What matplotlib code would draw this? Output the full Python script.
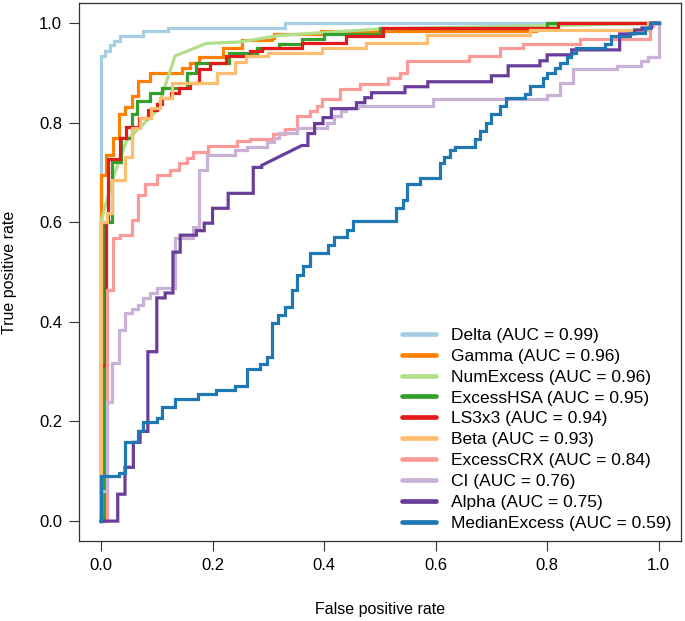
import matplotlib
matplotlib.use("Agg")
import matplotlib.pyplot as plt
import numpy as np

plt.rcParams['font.family'] = ['Liberation Sans', 'DejaVu Sans']

# ROC curves; for step curves each point is the top
# of a vertical jump (drawn with steps-post)
delta_fpr = [0, 0, 0.008, 0.016, 0.024, 0.034, 0.075, 0.12, 0.33, 1.0]
delta_tpr = [0, 0.934, 0.944, 0.956, 0.964, 0.974, 0.983, 0.99, 1.0, 1.0]

gamma_fpr = [0, 0, 0.009, 0.021, 0.032, 0.043, 0.055, 0.067, 0.088, 0.145, 0.16,
             0.175, 0.219, 0.252, 0.306, 0.31, 0.395, 0.78, 0.817, 1.0]
gamma_tpr = [0, 0.694, 0.734, 0.77, 0.817, 0.832, 0.854, 0.884, 0.90, 0.91, 0.92,
             0.932, 0.95, 0.966, 0.97, 0.978, 0.983, 0.99, 1.0, 1.0]

# NumExcess has tied scores -> drawn as a plain polyline
numexcess_fpr = [0, 0, 0.02, 0.025, 0.046, 0.10, 0.133, 0.189, 0.25, 0.32, 0.50, 0.82, 1.0]
numexcess_tpr = [0, 0.60, 0.684, 0.70, 0.764, 0.824, 0.934, 0.959, 0.962, 0.975, 0.988, 0.995, 1.0]

excesshsa_fpr = [0, 0.005, 0.02, 0.035, 0.055, 0.065, 0.088, 0.11, 0.155, 0.17, 0.23,
                 0.28, 0.32, 0.36, 0.40, 0.50, 0.80, 1.0]
excesshsa_tpr = [0, 0.60, 0.72, 0.77, 0.817, 0.844, 0.86, 0.87, 0.90, 0.92, 0.94,
                 0.95, 0.958, 0.968, 0.977, 0.99, 1.0, 1.0]

ls3x3_fpr = [0, 0, 0.009, 0.013, 0.034, 0.045, 0.068, 0.084, 0.10, 0.11, 0.125, 0.14,
             0.16, 0.175, 0.195, 0.225, 0.267, 0.288, 0.36, 0.44, 0.505, 0.82, 1.0]
ls3x3_tpr = [0, 0.314, 0.60, 0.726, 0.77, 0.792, 0.81, 0.825, 0.838, 0.85, 0.86, 0.87,
             0.88, 0.908, 0.92, 0.934, 0.944, 0.95, 0.96, 0.974, 0.99, 1.0, 1.0]

beta_fpr = [0, 0, 0.011, 0.02, 0.043, 0.055, 0.07, 0.09, 0.105, 0.127, 0.208, 0.24,
            0.26, 0.30, 0.396, 0.476, 0.584, 0.77, 0.98, 1.0]
beta_tpr = [0, 0.60, 0.618, 0.684, 0.73, 0.79, 0.81, 0.83, 0.85, 0.88, 0.90, 0.922,
            0.934, 0.94, 0.95, 0.96, 0.976, 0.985, 1.0, 1.0]

excesscrx_fpr = [0, 0.01, 0.021, 0.034, 0.055, 0.067, 0.079, 0.10, 0.124, 0.14, 0.154,
                 0.165, 0.192, 0.244, 0.267, 0.309, 0.33, 0.351, 0.375, 0.387, 0.396,
                 0.428, 0.464, 0.515, 0.536, 0.548, 0.66, 0.715, 0.757, 0.858, 0.984,
                 0.99, 1.0]
excesscrx_tpr = [0, 0.464, 0.568, 0.574, 0.604, 0.654, 0.677, 0.694, 0.704, 0.718, 0.728,
                 0.74, 0.754, 0.764, 0.768, 0.778, 0.787, 0.814, 0.824, 0.834, 0.848,
                 0.868, 0.878, 0.89, 0.90, 0.924, 0.934, 0.95, 0.958, 0.967, 0.994,
                 1.0, 1.0]

ci_fpr = [0, 0, 0.01, 0.02, 0.033, 0.043, 0.055, 0.067, 0.075, 0.088, 0.10, 0.133,
          0.165, 0.176, 0.19, 0.24, 0.262, 0.297, 0.31, 0.32, 0.351, 0.405, 0.417,
          0.43, 0.44, 0.46, 0.595, 0.80, 0.823, 0.846, 0.925, 0.969, 0.98, 1.0]
ci_tpr = [0, 0.06, 0.24, 0.318, 0.384, 0.418, 0.426, 0.434, 0.448, 0.458, 0.468, 0.568,
          0.59, 0.704, 0.734, 0.744, 0.752, 0.762, 0.77, 0.78, 0.79, 0.80, 0.814,
          0.824, 0.83, 0.834, 0.848, 0.856, 0.88, 0.907, 0.914, 0.924, 0.932, 1.0]

# Alpha: two step runs joined by a tied (diagonal) stretch
alpha_fpr_lo = [0, 0.03, 0.043, 0.058, 0.07, 0.084, 0.10, 0.115, 0.129, 0.142, 0.171,
                0.185, 0.20, 0.228, 0.273, 0.288]
alpha_tpr_lo = [0, 0.054, 0.108, 0.158, 0.18, 0.34, 0.448, 0.458, 0.54, 0.574, 0.583,
                0.598, 0.628, 0.658, 0.71, 0.714]
alpha_fpr_hi = [0.36, 0.371, 0.383, 0.398, 0.413, 0.458, 0.473, 0.485, 0.545, 0.586,
                0.70, 0.73, 0.787, 0.80, 0.844, 0.93, 0.957, 0.97, 0.987, 1.0]
alpha_tpr_hi = [0.754, 0.778, 0.798, 0.81, 0.828, 0.84, 0.85, 0.86, 0.872, 0.882,
                0.894, 0.914, 0.924, 0.936, 0.946, 0.978, 0.986, 0.99, 1.0, 1.0]

median_fpr = [0, 0, 0.033, 0.043, 0.067, 0.075, 0.10, 0.109, 0.133, 0.174, 0.207, 0.24,
              0.261, 0.285, 0.297, 0.307, 0.318, 0.33, 0.342, 0.351, 0.363, 0.375,
              0.407, 0.418, 0.441, 0.451, 0.529, 0.541, 0.548, 0.572, 0.607, 0.615,
              0.625, 0.635, 0.67, 0.68, 0.69, 0.70, 0.715, 0.727, 0.76, 0.77, 0.793,
              0.80, 0.814, 0.823, 0.835, 0.843, 0.852, 0.903, 0.915, 0.948, 0.975,
              0.985, 1.0]
median_tpr = [0, 0.09, 0.097, 0.158, 0.18, 0.198, 0.206, 0.23, 0.246, 0.256, 0.264, 0.272,
              0.306, 0.316, 0.33, 0.398, 0.414, 0.43, 0.464, 0.494, 0.512, 0.538,
              0.554, 0.57, 0.585, 0.603, 0.628, 0.644, 0.677, 0.688, 0.718, 0.73,
              0.744, 0.75, 0.768, 0.784, 0.80, 0.817, 0.834, 0.85, 0.857, 0.874, 0.89,
              0.90, 0.91, 0.92, 0.932, 0.94, 0.949, 0.958, 0.974, 0.98, 0.99,
              1.0, 1.0]

labels = ['Delta (AUC = 0.99)', 'Gamma (AUC = 0.96)', 'NumExcess (AUC = 0.96)',
          'ExcessHSA (AUC = 0.95)', 'LS3x3 (AUC = 0.94)', 'Beta (AUC = 0.93)',
          'ExcessCRX (AUC = 0.84)', 'CI (AUC = 0.76)', 'Alpha (AUC = 0.75)',
          'MedianExcess (AUC = 0.59)']
colors = ['#A6CEE3', '#FF7F00', '#B2DF8A', '#33A02C', '#E31A1C', '#FDBF6F',
          '#FB9A99', '#CAB2D6', '#6A3D9A', '#1F78B4']


def stairs(x, y):
    # step points -> polyline vertices (horizontal, then vertical)
    x = np.asarray(x, float)
    y = np.asarray(y, float)
    xs = np.repeat(x, 2)[1:]
    ys = np.repeat(y, 2)[:-1]
    return xs, ys


curves = [
    stairs(delta_fpr, delta_tpr),
    stairs(gamma_fpr, gamma_tpr),
    (np.array(numexcess_fpr), np.array(numexcess_tpr)),
    stairs(excesshsa_fpr, excesshsa_tpr),
    stairs(ls3x3_fpr, ls3x3_tpr),
    stairs(beta_fpr, beta_tpr),
    stairs(excesscrx_fpr, excesscrx_tpr),
    stairs(ci_fpr, ci_tpr),
]
a_lo = stairs(alpha_fpr_lo, alpha_tpr_lo)
a_hi = stairs(alpha_fpr_hi, alpha_tpr_hi)
curves.append((np.concatenate([a_lo[0], a_hi[0]]), np.concatenate([a_lo[1], a_hi[1]])))
curves.append(stairs(median_fpr, median_tpr))

fig = plt.figure(figsize=(6.85, 6.21), dpi=100)
ax = fig.add_axes([0.1149, 0.1288, 0.8793, 0.8663])

for (xs, ys), lab, col in zip(curves, labels, colors):
    ax.plot(xs, ys, color=col, lw=2.3, label=lab, solid_joinstyle='miter')

ax.set_xlim(-0.04, 1.04)
ax.set_ylim(-0.04, 1.04)
ticks = [0.0, 0.2, 0.4, 0.6, 0.8, 1.0]
ax.set_xticks(ticks)
ax.set_yticks(ticks)
ax.set_xticklabels([f'{t:.1f}' for t in ticks])
ax.set_yticklabels([f'{t:.1f}' for t in ticks])
ax.tick_params(labelsize=12, length=7, width=0.8, pad=5, color='#333333')
for s in ax.spines.values():
    s.set_linewidth(0.9)
    s.set_color('#333333')

ax.set_xlabel('False positive rate', fontsize=11.5, labelpad=21)
ax.set_ylabel('True positive rate', fontsize=11.5, labelpad=16)

leg = ax.legend(loc='lower left', bbox_to_anchor=(0.536, 0.019), frameon=False,
                fontsize=12.5, handlelength=2.0, handletextpad=0.85,
                labelspacing=0.33, borderaxespad=0, borderpad=0)
for h in leg.get_lines():
    h.set_linewidth(3.4)
    h.set_solid_capstyle('round')

fig.savefig('out.png', dpi=100)
